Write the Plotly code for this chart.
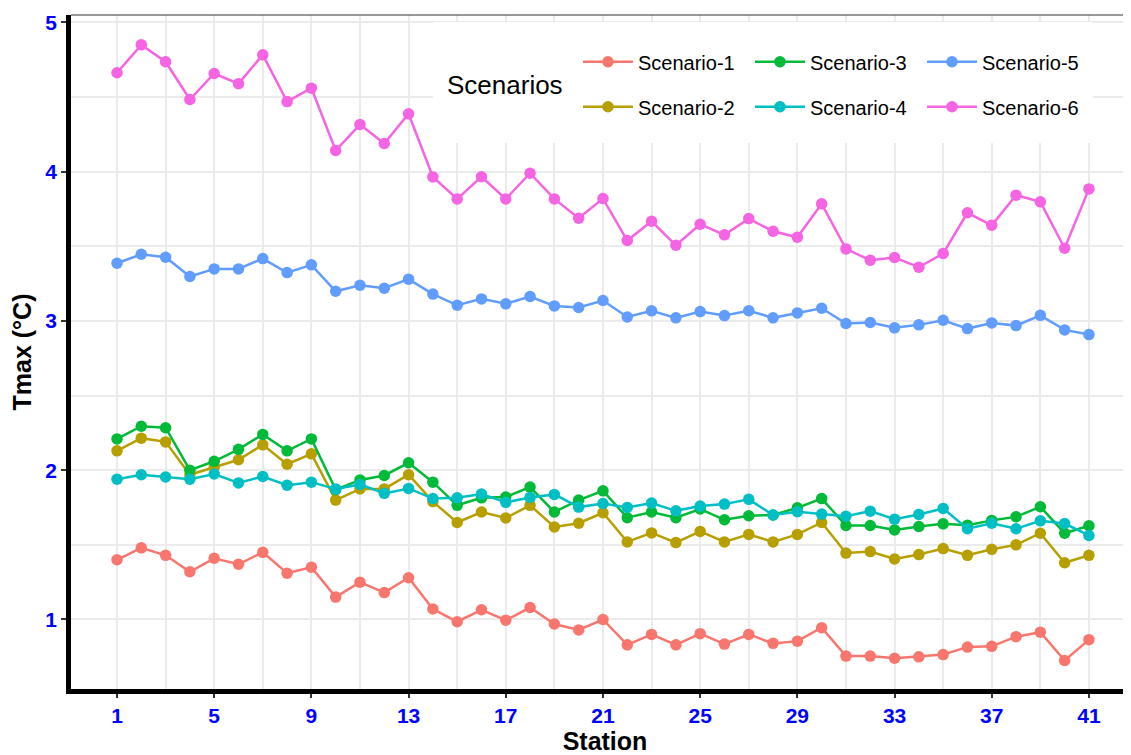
import plotly.graph_objects as go

stations = list(range(1, 42))
x_tickvals = [1, 5, 9, 13, 17, 21, 25, 29, 33, 37, 41]

scenario_1 = [1.40, 1.48, 1.43, 1.32, 1.41, 1.37, 1.45, 1.31, 1.35, 1.15, 1.25, 1.18, 1.28, 1.07, 0.985, 1.065,
              0.995, 1.08, 0.97, 0.93, 1.00, 0.83, 0.90, 0.83, 0.905, 0.835, 0.90, 0.84, 0.855, 0.945, 0.755,
              0.755, 0.74, 0.75, 0.765, 0.815, 0.82, 0.885, 0.915, 0.725, 0.865]
scenario_2 = [2.13, 2.215, 2.19, 1.97, 2.02, 2.07, 2.17, 2.04, 2.11, 1.80, 1.875, 1.875, 1.97, 1.79, 1.65, 1.72,
              1.68, 1.765, 1.62, 1.645, 1.715, 1.52, 1.58, 1.515, 1.59, 1.52, 1.57, 1.52, 1.57, 1.65, 1.445,
              1.455, 1.405, 1.435, 1.475, 1.43, 1.47, 1.50, 1.578, 1.38, 1.43]
scenario_3 = [2.21, 2.295, 2.285, 2.00, 2.06, 2.14, 2.24, 2.13, 2.21, 1.87, 1.935, 1.965, 2.05, 1.92, 1.765, 1.815,
              1.82, 1.887, 1.72, 1.80, 1.862, 1.682, 1.72, 1.682, 1.74, 1.668, 1.695, 1.70, 1.748, 1.81, 1.63,
              1.63, 1.60, 1.623, 1.641, 1.632, 1.664, 1.688, 1.755, 1.578, 1.628]
scenario_4 = [1.94, 1.97, 1.955, 1.94, 1.975, 1.915, 1.958, 1.90, 1.92, 1.875, 1.905, 1.845, 1.878, 1.81, 1.815,
              1.84, 1.785, 1.818, 1.838, 1.753, 1.777, 1.751, 1.78, 1.728, 1.76, 1.773, 1.805, 1.70, 1.722,
              1.706, 1.692, 1.726, 1.672, 1.704, 1.744, 1.608, 1.645, 1.608, 1.661, 1.643, 1.563]
scenario_5 = [3.387, 3.447, 3.427, 3.298, 3.349, 3.349, 3.418, 3.324, 3.376, 3.199, 3.239, 3.219, 3.28, 3.18,
              3.105, 3.148, 3.115, 3.164, 3.101, 3.09, 3.137, 3.027, 3.068, 3.021, 3.063, 3.036, 3.069, 3.021,
              3.054, 3.085, 2.983, 2.99, 2.954, 2.974, 3.005, 2.949, 2.987, 2.969, 3.038, 2.94, 2.909]
scenario_6 = [4.663, 4.85, 4.737, 4.484, 4.658, 4.59, 4.783, 4.47, 4.56, 4.142, 4.316, 4.189, 4.388, 3.965,
              3.818, 3.966, 3.818, 3.99, 3.818, 3.689, 3.82, 3.539, 3.668, 3.507, 3.648, 3.577, 3.686, 3.601,
              3.561, 3.785, 3.483, 3.407, 3.425, 3.36, 3.452, 3.725, 3.641, 3.843, 3.798, 3.487, 3.885]

names = ["Scenario-1", "Scenario-2", "Scenario-3", "Scenario-4", "Scenario-5", "Scenario-6"]
values = [scenario_1, scenario_2, scenario_3, scenario_4, scenario_5, scenario_6]
colors = ["#F8766D", "#B79F00", "#00BA38", "#00BFC4", "#619CFF", "#F564E3"]
legend_ids = ["legend", "legend2", "legend", "legend2", "legend", "legend2"]

fig = go.Figure()
for name, vals, col, lg in zip(names, values, colors, legend_ids):
    fig.add_trace(go.Scatter(
        x=stations, y=vals, name=name, mode="lines+markers",
        line=dict(color=col, width=2.5),
        marker=dict(color=col, size=11.5),
        legend=lg,
    ))

FONT = "Liberation Sans, Arial, sans-serif"
legend_common = dict(
    orientation="h", xanchor="left", yanchor="middle",
    bgcolor="rgba(255,255,255,0)", borderwidth=0,
    font=dict(family=FONT, size=20, color="#000000"),
    entrywidth=107, entrywidthmode="pixels", itemwidth=50,
)

fig.update_layout(
    width=1131, height=755,
    margin=dict(l=63, r=0, t=7, b=74),
    paper_bgcolor="white", plot_bgcolor="white",
    font=dict(family=FONT, color="#000000"),
    showlegend=True,
    legend=dict(x=0.4747, y=0.9307, **legend_common),
    legend2=dict(x=0.4747, y=0.8639, **legend_common),
    xaxis=dict(
        range=[-0.893, 43.06], tickmode="array", tickvals=x_tickvals,
        ticktext=[str(v) for v in x_tickvals],
        showgrid=True, gridcolor="#EBEBEB", gridwidth=1.8,
        minor=dict(tickmode="linear", tick0=1, dtick=2, showgrid=True, gridcolor="#EBEBEB", gridwidth=1.8),
        showline=True, linecolor="#000000", linewidth=4.5,
        ticks="outside", ticklen=4, tickwidth=2, tickcolor="#333333",
        tickfont=dict(family=FONT, size=21, color="#0000FF", weight="bold"),
        title=dict(text="Station", font=dict(family=FONT, size=25, color="#000000", weight="bold"), standoff=5),
        zeroline=False, automargin=False,
    ),
    yaxis=dict(
        range=[0.5343, 5.05], tickmode="array", tickvals=[1, 2, 3, 4, 5],
        showgrid=True, gridcolor="#EBEBEB", gridwidth=1.8,
        minor=dict(tickmode="linear", tick0=0.5, dtick=0.5, showgrid=True, gridcolor="#EBEBEB", gridwidth=1.8),
        showline=True, linecolor="#000000", linewidth=4.5,
        ticks="outside", ticklen=5, tickwidth=2, tickcolor="#333333",
        tickfont=dict(family=FONT, size=21, color="#0000FF", weight="bold"),
        title=dict(text="Tmax (°C)", font=dict(family=FONT, size=25, color="#000000", weight="bold"), standoff=10),
        zeroline=False, automargin=False,
    ),
    shapes=[
        dict(type="rect", xref="paper", yref="paper", x0=0.3390, x1=0.9569, y0=0.810, y1=0.9896,
             fillcolor="white", line=dict(width=0), layer="above"),
        dict(type="line", xref="paper", yref="paper", x0=0, x1=1, y0=1, y1=1,
             line=dict(color="#333333", width=1.2), layer="above"),
    ],
    annotations=[
        dict(text="Scenarios", xref="paper", yref="paper", x=0.4064, y=0.8961,
             xanchor="center", yanchor="middle", showarrow=False,
             font=dict(family=FONT, size=26, color="#000000")),
    ],
)

fig.write_html("out.html")
